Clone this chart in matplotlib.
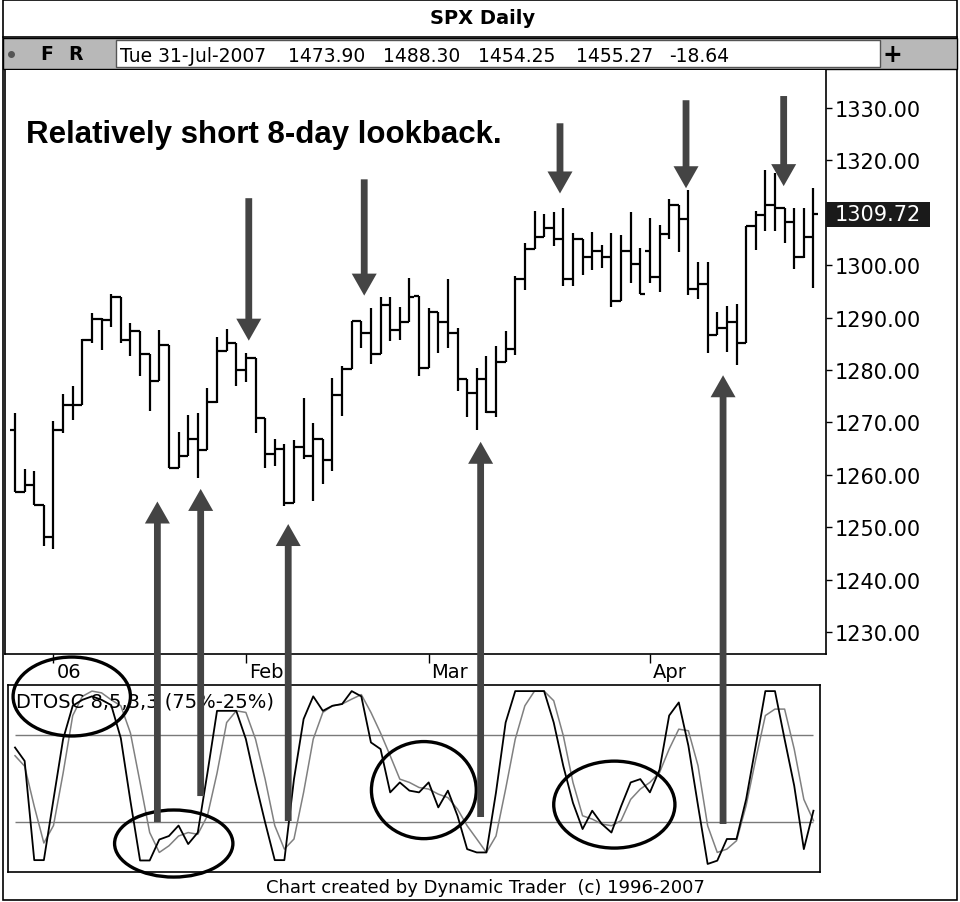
import numpy as np
import matplotlib.pyplot as plt
import matplotlib.transforms as mtransforms
from matplotlib.patches import Rectangle, Ellipse, Polygon

# daily SPX bars (open, high, low, close)
opens = [1268.6, 1256.7, 1258.1, 1254.3, 1248.2, 1268.6, 1273.4, 1273.4, 1285.7, 1289.8,
         1289.5, 1293.9, 1285.8, 1287.4, 1283.0, 1277.9, 1284.7, 1261.3, 1263.5, 1266.8,
         1264.7, 1273.8, 1283.7, 1285.1, 1280.0, 1282.2, 1270.9, 1263.9, 1265.0, 1254.6,
         1265.3, 1263.5, 1266.8, 1262.8, 1275.2, 1280.1, 1289.4, 1287.0, 1283.0, 1292.4,
         1287.7, 1289.2, 1294.1, 1280.3, 1291.1, 1289.2, 1287.0, 1278.2, 1275.6, 1278.2,
         1272.0, 1281.6, 1284.0, 1297.3, 1303.1, 1305.3, 1307.2, 1305.0, 1297.4, 1305.0,
         1301.6, 1302.8, 1301.6, 1293.2, 1302.7, 1300.2, 1302.7, 1297.7, 1306.0, 1311.5,
         1308.8, 1295.4, 1296.5, 1286.7, 1288.1, 1289.1, 1285.2, 1307.5, 1309.6, 1311.5,
         1311.0, 1308.3, 1301.6, 1305.3]
highs = [1271.7, 1261.2, 1260.7, 1254.3, 1270.2, 1275.4, 1276.9, 1285.9, 1290.8, 1290.0,
         1294.6, 1293.9, 1288.9, 1287.4, 1283.0, 1287.7, 1284.7, 1268.1, 1271.4, 1271.7,
         1276.5, 1286.3, 1287.8, 1285.1, 1283.3, 1282.2, 1270.9, 1266.8, 1265.8, 1266.6,
         1274.7, 1269.9, 1266.8, 1278.4, 1280.7, 1289.4, 1289.4, 1291.9, 1294.0, 1294.0,
         1292.1, 1297.6, 1294.1, 1291.9, 1291.1, 1297.4, 1288.1, 1278.2, 1280.4, 1282.6,
         1284.6, 1287.4, 1298.0, 1304.2, 1310.4, 1309.8, 1310.1, 1310.9, 1306.1, 1305.0,
         1306.4, 1303.9, 1306.1, 1305.7, 1310.2, 1303.2, 1309.0, 1307.7, 1312.7, 1311.5,
         1314.3, 1300.6, 1300.6, 1291.1, 1292.2, 1292.6, 1307.5, 1310.4, 1318.2, 1317.6,
         1311.0, 1310.9, 1310.9, 1314.8]
lows = [1256.7, 1256.7, 1254.3, 1246.5, 1245.9, 1267.9, 1270.4, 1273.4, 1285.1, 1283.9,
        1288.3, 1285.1, 1282.7, 1278.8, 1272.2, 1277.9, 1261.3, 1261.3, 1263.5, 1259.4,
        1264.7, 1273.7, 1283.7, 1277.0, 1277.7, 1267.9, 1261.3, 1261.6, 1254.0, 1254.6,
        1263.1, 1255.0, 1258.3, 1260.8, 1271.2, 1280.1, 1284.2, 1281.2, 1283.0, 1285.5,
        1285.8, 1289.2, 1278.8, 1280.3, 1283.2, 1284.2, 1276.0, 1271.1, 1268.5, 1271.8,
        1271.1, 1281.6, 1282.8, 1295.3, 1303.1, 1305.3, 1303.7, 1296.1, 1296.1, 1298.1,
        1299.0, 1299.4, 1292.1, 1293.2, 1296.7, 1294.6, 1296.7, 1294.8, 1305.1, 1302.6,
        1294.3, 1293.5, 1283.2, 1286.7, 1283.5, 1280.9, 1285.2, 1302.9, 1306.5, 1306.5,
        1304.2, 1299.3, 1301.3, 1295.6]
closes = [1256.7, 1258.1, 1254.3, 1248.2, 1268.6, 1273.4, 1273.4, 1285.7, 1289.8, 1289.5,
          1293.9, 1285.8, 1287.4, 1283.0, 1277.9, 1284.7, 1261.3, 1263.5, 1266.8, 1264.7,
          1273.8, 1283.7, 1285.1, 1280.0, 1282.2, 1270.9, 1263.9, 1265.0, 1254.6, 1265.3,
          1263.5, 1266.8, 1262.8, 1275.2, 1280.1, 1289.4, 1287.0, 1283.0, 1292.4, 1287.7,
          1289.2, 1294.0, 1280.3, 1291.1, 1289.2, 1287.0, 1278.2, 1275.6, 1278.2, 1272.0,
          1281.6, 1284.0, 1297.3, 1303.1, 1305.3, 1307.2, 1305.0, 1297.4, 1305.0, 1301.6,
          1302.8, 1301.6, 1293.2, 1302.7, 1300.2, 1294.6, 1297.7, 1306.0, 1311.5, 1308.8,
          1295.4, 1296.5, 1286.7, 1288.1, 1289.1, 1285.2, 1307.5, 1309.6, 1311.5, 1311.0,
          1308.3, 1301.6, 1305.3, 1309.72]

# DTOSC fast (black) and slow (gray) lines
osc_fast = [67.7, 60, 3.2, 3.2, 38, 72.5, 91.6, 95, 97, 95,
            92, 73, 37, 3, 3, 15, 17, 23, 12.4, 19,
            53, 88.7, 88.7, 88.7, 72.5, 47.7, 24.8, 3.2, 3.2, 49.6,
            84, 97, 88.7, 91.6, 92.6, 100, 97, 70.6, 66.8, 42,
            47.7, 43, 42, 47.7, 33.4, 43, 28.6, 9.5, 7.6, 7.6,
            42, 82, 100, 100, 100, 100, 82, 57, 36, 21,
            31.5, 23.9, 19, 34, 47.7, 49.6, 42, 55, 86, 93.5,
            68.7, 34.4, 1, 2.9, 15.3, 15.3, 38, 68.7, 100, 100,
            72.5, 45.8, 9.5, 31.5]
osc_slow = [63, 57, 34, 13, 23, 53, 86, 97, 100, 99,
            95, 91.6, 76, 47.7, 19, 7.6, 11.4, 17, 19, 18,
            28.6, 53, 82, 88.7, 87.8, 72.5, 49.6, 23, 9.5, 15.3,
            42, 72.5, 87.8, 91.6, 92.6, 95.4, 98, 87.8, 76, 63,
            49.6, 47.7, 44.8, 43.9, 41, 39, 32.4, 22.9, 15.3, 7.6,
            17, 43.9, 72.5, 91.6, 100, 100, 94.5, 74.4, 47.7, 28.6,
            26.7, 23.9, 22.9, 25.8, 38, 43.9, 47.7, 53.4, 66.8, 78.2,
            77.3, 57.3, 22.9, 7.6, 9.5, 14.3, 34.4, 61, 86, 89.7,
            89.7, 66.8, 38, 25.8]
osc_levels = [25, 75]

month_idx = [4, 24, 43, 66]
month_labels = ["06", "Feb", "Mar", "Apr"]
price_ticks = [1230, 1240, 1250, 1260, 1270, 1280, 1290, 1300, 1310, 1320, 1330]

# annotations: (bar index, tip price, tail price)
down_arrows = [(24.3, 1285.6, 1312.8), (36.3, 1294.2, 1316.4), (56.65, 1313.7, 1327.1),
               (69.75, 1314.7, 1331.5), (79.9, 1315.1, 1332.3)]
# (bar index, tip price, tail oscillator value)
up_arrows = [(14.8, 1254.9, 25.0), (19.3, 1257.3, 39.9), (28.4, 1250.6, 25.6),
             (48.4, 1266.3, 27.9), (73.6, 1279.0, 23.9)]
# (centre index, centre value, width in bars, height in osc units)
circles = [(5.9, 96.9, 12.2, 45.2), (16.5, 12.7, 12.3, 38.4),
           (42.5, 43.3, 10.9, 55.6), (62.3, 35.0, 12.6, 49.8)]

W, H = 960, 903
fig = plt.figure(figsize=(W / 100, H / 100), dpi=100)
fig.patch.set_facecolor("white")


def box(x0, y0, x1, y1):
    return [x0 / W, 1 - y1 / H, (x1 - x0) / W, (y1 - y0) / H]


# background / frame in pixel coordinates
bg = fig.add_axes([0, 0, 1, 1], zorder=0)
bg.set_xlim(0, W)
bg.set_ylim(H, 0)
bg.axis("off")
bg.add_patch(Rectangle((3, 1), 954, 900, fill=False, ec="black", lw=1.2))
bg.plot([3, 957], [38, 38], color="black", lw=1.2)
bg.add_patch(Rectangle((3, 39), 954, 31, fc="#b8b8b8", ec="black", lw=1.0))
bg.add_patch(Rectangle((116, 41), 764, 27, fc="white", ec="#555555", lw=1.0))
bg.text(483, 19, "SPX Daily", ha="center", va="center", fontsize=14,
        fontweight="bold", family="DejaVu Sans")
bg.plot([11], [55], "o", color="#555555", ms=4)
bg.text(47, 55, "F", ha="center", va="center", fontsize=13.5, fontweight="bold")
bg.text(76, 55, "R", ha="center", va="center", fontsize=13.5, fontweight="bold")
bg.text(892, 55, "+", ha="center", va="center", fontsize=17, fontweight="bold")
info = [("Tue 31-Jul-2007", 120), ("1473.90", 288), ("1488.30", 383),
        ("1454.25", 478), ("1455.27", 576), ("-18.64", 669)]
for s, x in info:
    bg.text(x, 56, s, ha="left", va="center", fontsize=13.5)
bg.text(485, 888, "Chart created by Dynamic Trader  (c) 1996-2007",
        ha="center", va="center", fontsize=13)

# price pane
ax = fig.add_axes(box(5, 71, 826, 655), zorder=2)
ax.set_xlim(-1.04, 84.30)
ax.set_ylim(1225.79, 1337.27)
idx = np.arange(len(closes))
ax.vlines(idx, lows, highs, color="black", lw=1.6)
ax.hlines(opens, idx - 0.5, idx, color="black", lw=1.6)
ax.hlines(closes, idx, idx + 0.5, color="black", lw=1.6)
ax.set_xticks([])
ax.yaxis.tick_right()
ax.set_yticks(price_ticks)
ax.set_yticklabels([f"{p:.2f}" for p in price_ticks])
ax.tick_params(axis="y", direction="out", length=4.5, width=1, pad=1.5,
               labelsize=15)
for sp in ["left", "right", "bottom"]:
    ax.spines[sp].set_linewidth(1.2)
ax.spines["top"].set_visible(False)
tr = mtransforms.blended_transform_factory(ax.transAxes, ax.transData)
ax.text(0.025, 1325.0, "Relatively short 8-day lookback.", transform=tr,
        fontsize=22.5, fontweight="bold", family="Liberation Sans", va="center")

ax.add_patch(Rectangle((1.0, closes[-1] - 2.4), 104 / 821, 4.8, transform=tr,
                       fc="#1a1a1a", ec="none", clip_on=False, zorder=5))
ax.text(1.0 + 9 / 821, closes[-1], f"{closes[-1]:.2f}", transform=tr, color="white",
        fontsize=15, va="center", ha="left", zorder=6, clip_on=False)

# date strip
axd = fig.add_axes(box(5, 655, 826, 686), zorder=1)
axd.set_xlim(-1.04, 84.30)
axd.set_ylim(0, 1)
axd.axis("off")
axd.vlines(month_idx, 0.72, 1.0, color="black", lw=1)
for m, lab in zip(month_idx, month_labels):
    axd.text(m + 0.3, 0.42, lab, ha="left", va="center", fontsize=14)

# oscillator pane
axo = fig.add_axes(box(8, 686, 820, 873), zorder=2)
axo.set_xlim(-0.728, 83.68)
axo.set_ylim(-3.6, 103.5)
axo.hlines(osc_levels, 0, len(osc_fast) - 1, color="#7a7a7a", lw=1)
axo.plot(idx, osc_slow, color="#808080", lw=1.1)
axo.plot(idx, osc_fast, color="black", lw=1.3)
axo.set_xticks([])
axo.set_yticks([])
for sp in axo.spines.values():
    sp.set_linewidth(1.2)
axo.text(0.1, 94.5, "DTOSC 8,5,3,3 (75%-25%)", fontsize=14, va="center", ha="left")
for cx, cy, w, h in circles:
    axo.add_patch(Ellipse((cx, cy), w, h, fill=False, ec="black", lw=2.4,
                          clip_on=False, zorder=6))

# arrows drawn in figure space so they can cross panes
over = fig.add_axes([0, 0, 1, 1], zorder=3)
over.set_xlim(0, W)
over.set_ylim(0, H)
over.axis("off")
arrow_col = "#444444"
hw, hl, sw = 12.5, 22, 3.4


def arrow(p_tip, p_tail):
    xt, yt = p_tip
    xa, ya = p_tail
    d = 1 if ya > yt else -1
    pts = [(xt - sw, ya), (xt + sw, ya), (xt + sw, yt + d * hl), (xt + hw, yt + d * hl),
           (xt, yt), (xt - hw, yt + d * hl), (xt - sw, yt + d * hl)]
    over.add_patch(Polygon(pts, closed=True, fc=arrow_col, ec="none"))


for i, tip, tail in down_arrows:
    arrow(ax.transData.transform((i, tip)), ax.transData.transform((i, tail)))
for i, tip, tail in up_arrows:
    tp = ax.transData.transform((i, tip))
    tl = axo.transData.transform((0, tail))
    arrow(tp, (tp[0], tl[1]))

fig.savefig("out.png", dpi=100)
